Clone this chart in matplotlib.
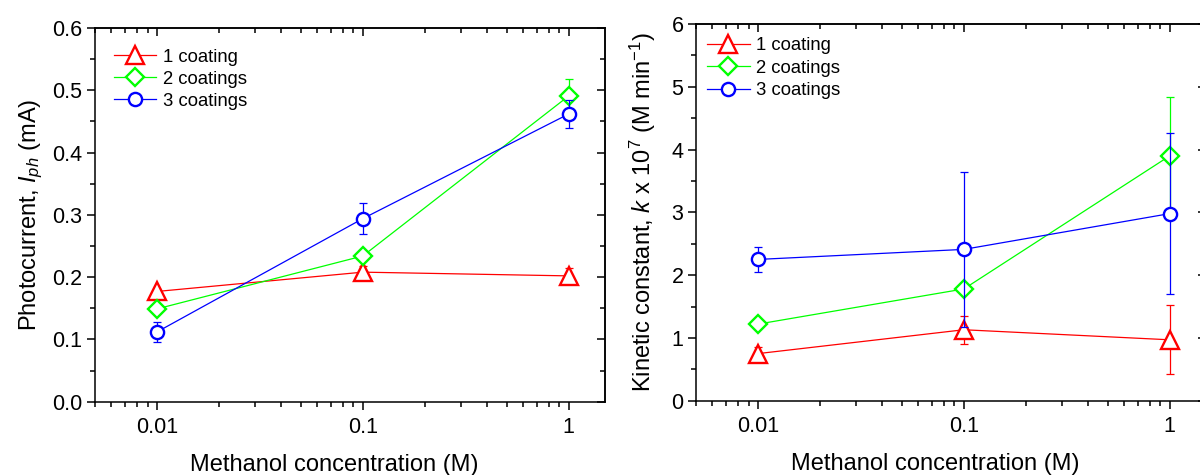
import matplotlib
matplotlib.use("Agg")
import matplotlib.pyplot as plt
from matplotlib.ticker import MultipleLocator, FormatStrFormatter, LogLocator, FixedLocator, FixedFormatter, NullFormatter

plt.rcParams['font.family'] = ['Liberation Sans', 'DejaVu Sans']
plt.rcParams['mathtext.fontset'] = 'custom'
plt.rcParams['mathtext.rm'] = 'Liberation Sans'
plt.rcParams['mathtext.it'] = 'Liberation Sans:italic'

# Data
conc = [0.01, 0.1, 1]
labels = ["1 coating", "2 coatings", "3 coatings"]
colors = ["#FF0000", "#00FF00", "#0000FF"]
markers = ["^", "D", "o"]
msizes = [12.5, 9.0, 9.5]

# photocurrent (mA)
iph_1 = [0.177, 0.208, 0.202]
iph_1_err = [0.004, 0.010, 0.012]
iph_2 = [0.149, 0.234, 0.491]
iph_2_err = [0.004, 0.005, 0.027]
iph_3 = [0.112, 0.294, 0.462]
iph_3_err = [0.016, 0.025, 0.023]

# kinetic constant (x 10^7 M/min)
k_1 = [0.75, 1.13, 0.97]
k_1_err = [0.10, 0.22, 0.55]
k_2 = [1.22, 1.78, 3.90]
k_2_err = [0.03, 0.03, 0.93]
k_3 = [2.25, 2.41, 2.98]
k_3_err = [0.20, 1.24, 1.28]

fig = plt.figure(figsize=(12, 4.75), dpi=100)
W, H = 1200, 475
ax1 = fig.add_axes([95 / W, 1 - 401.7 / H, 510 / W, (401.7 - 28) / H])
ax2 = fig.add_axes([696 / W, 1 - 400.7 / H, 510 / W, (400.7 - 24) / H])


def draw(ax, ys, errs):
    for i, (y, e) in enumerate(zip(ys, errs)):
        ax.errorbar(conc, y, yerr=e, fmt='none', ecolor=colors[i], elinewidth=0.9,
                    capsize=3, capthick=0.9, zorder=3 + 2 * i)
        ax.plot(conc, y, color=colors[i], lw=0.9, marker=markers[i], ms=msizes[i],
                mfc='white', mec=colors[i], mew=1.7, label=labels[i], zorder=4 + 2 * i)


draw(ax1, [iph_1, iph_2, iph_3], [iph_1_err, iph_2_err, iph_3_err])
draw(ax2, [k_1, k_2, k_3], [k_1_err, k_2_err, k_3_err])

ax1.set_ylim(0, 0.6)
ax2.set_ylim(0, 6)
ystep = {ax1: (0.1, 0.05), ax2: (1, 0.5)}

for ax in (ax1, ax2):
    ax.set_xscale('log')
    ax.set_xlim(0.005, 1.5)
    ax.xaxis.set_major_locator(FixedLocator([0.01, 0.1, 1]))
    ax.xaxis.set_major_formatter(FixedFormatter(["0.01", "0.1", "1"]))
    ax.xaxis.set_minor_locator(LogLocator(base=10, subs=range(2, 10), numticks=20))
    ax.xaxis.set_minor_formatter(NullFormatter())
    ax.yaxis.set_major_locator(MultipleLocator(ystep[ax][0]))
    ax.yaxis.set_minor_locator(MultipleLocator(ystep[ax][1]))
    ax.tick_params(which='both', direction='out', labelsize=15.5, width=1.1)
    ax.tick_params(which='major', length=6)
    ax.tick_params(which='minor', length=3.5)
    ax.tick_params(axis='x', pad=5)
    ax.tick_params(axis='y', pad=3)
    for sp in ax.spines.values():
        sp.set_linewidth(1.1)
    ax.set_xlabel("Methanol concentration (M)", fontsize=17)
    ax.xaxis.set_label_coords(0.47, -0.14)

    # mirrored ticks on top and right, pointing inward
    top = ax.secondary_xaxis('top')
    top.xaxis.set_major_locator(FixedLocator([0.01, 0.1, 1]))
    top.xaxis.set_minor_locator(LogLocator(base=10, subs=range(2, 10), numticks=20))
    top.xaxis.set_major_formatter(NullFormatter())
    top.xaxis.set_minor_formatter(NullFormatter())
    top.tick_params(which='both', direction='in', width=1.1)
    top.tick_params(which='major', length=6)
    top.tick_params(which='minor', length=3.5)
    right = ax.secondary_yaxis('right')
    right.yaxis.set_major_locator(MultipleLocator(ystep[ax][0]))
    right.yaxis.set_minor_locator(MultipleLocator(ystep[ax][1]))
    right.yaxis.set_major_formatter(NullFormatter())
    right.tick_params(which='both', direction='in', width=1.1)
    right.tick_params(which='major', length=6)
    right.tick_params(which='minor', length=3.5)
    for sec in (top, right):
        for sp in sec.spines.values():
            sp.set_linewidth(1.1)

ax1.legend(loc='upper left', frameon=False, fontsize=13.3, handlelength=2.3,
           handletextpad=0.35, labelspacing=0.27, borderpad=0, borderaxespad=0,
           bbox_to_anchor=(0.037, 0.944))
ax2.legend(loc='upper left', frameon=False, fontsize=13.3, handlelength=2.3,
           handletextpad=0.35, labelspacing=0.3, borderpad=0, borderaxespad=0,
           bbox_to_anchor=(0.022, 0.965))

ax1.yaxis.set_major_formatter(FormatStrFormatter('%.1f'))
ax1.set_ylabel("Photocurrent, $I_{ph}$ (mA)", fontsize=17)
ax1.yaxis.set_label_coords(-0.098, 0.5)

ax2.yaxis.set_major_formatter(FormatStrFormatter('%d'))
ax2.set_ylabel("Kinetic constant, $k$ x 10$^{7}$ (M min$^{-1}$)", fontsize=17)
ax2.yaxis.set_label_coords(-0.074, 0.5)

fig.savefig("out.png", dpi=100)
